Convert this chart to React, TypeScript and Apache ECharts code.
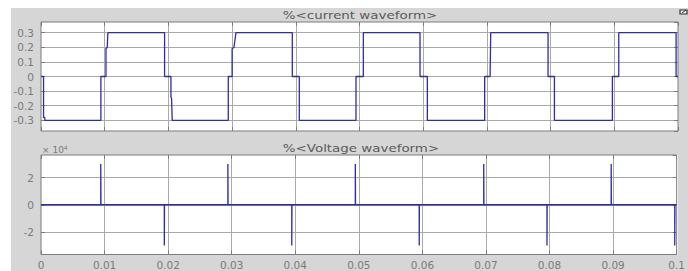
import React, { useEffect, useRef } from "react";
import * as echarts from "echarts";

const currentTitle = "%<current waveform>";
const voltageTitle = "%<Voltage waveform>";

const currentLimit = 0.373;
const voltageLimit = 36600;
const voltageScale = 10000;

const currentT = [
  0, 0.0004, 0.0004, 0.0006, 0.0006,
  0.0094, 0.0094, 0.0102, 0.0102, 0.0104, 0.0105,
  0.0194, 0.0194, 0.0204, 0.0204, 0.0205, 0.0206,
  0.0294, 0.0294, 0.03, 0.03, 0.0303, 0.0306,
  0.03945, 0.03945, 0.04055, 0.04055,
  0.04945, 0.04945, 0.0506, 0.0506,
  0.0595, 0.0595, 0.06065, 0.06065,
  0.06965, 0.06965, 0.0705, 0.0706,
  0.0796, 0.0796, 0.0806, 0.0806,
  0.0897, 0.0897, 0.0907, 0.0907,
  0.0997, 0.0997, 0.1,
];
const currentV = [
  0, 0, -0.28, -0.28, -0.3,
  -0.3, 0, 0, 0.19, 0.2, 0.3,
  0.3, 0, 0, -0.14, -0.15, -0.3,
  -0.3, 0, 0, 0.19, 0.2, 0.3,
  0.3, 0, 0, -0.3,
  -0.3, 0, 0, 0.3,
  0.3, 0, 0, -0.3,
  -0.3, 0, 0, 0.3,
  0.3, 0, 0, -0.3,
  -0.3, 0, 0, 0.3,
  0.3, 0, 0,
];

const voltageT = [
  0,
  0.0094, 0.0094, 0.00943,
  0.0194, 0.0194, 0.01943,
  0.0294, 0.0294, 0.02943,
  0.03945, 0.03945, 0.03948,
  0.04945, 0.04945, 0.04948,
  0.0595, 0.0595, 0.05953,
  0.06965, 0.06965, 0.06968,
  0.0796, 0.0796, 0.07963,
  0.0897, 0.0897, 0.08973,
  0.0997, 0.0997, 0.09973, 0.1,
];
const voltageV = [
  0,
  0, 30000, 0,
  0, -30000, 0,
  0, 30000, 0,
  0, -30000, 0,
  0, 30000, 0,
  0, -30000, 0,
  0, 30000, 0,
  0, -30000, 0,
  0, 30000, 0,
  0, -30000, 0, 0,
];

const LINE = "#2d2da8";
const BOX = "#7c7c7c";
const GRIDC = "#a9a9a9";
const LABEL = "#7a7a7a";
const FONT = "DejaVu Sans";

function fmtNum(v: number) {
  return String(+v.toFixed(3));
}

const grids = [
  { left: 41, top: 22, width: 637, height: 109 },
  { left: 41, top: 155, width: 637, height: 99.5 },
];

export default function App() {
  const ref = useRef<HTMLDivElement>(null);
  useEffect(() => {
    if (!ref.current) return;
    const chart = echarts.init(ref.current, undefined, { renderer: "svg" });
    const mkTick = () => ({ show: true, inside: true, length: 4, lineStyle: { color: BOX, width: 1 } });
    const mkX = (grid: number, pos: "top" | "bottom", labels: boolean, split: boolean) => ({
      type: "value",
      gridIndex: grid,
      position: pos,
      min: 0,
      max: 0.1,
      interval: 0.01,
      axisLine: { show: false, onZero: false },
      axisTick: mkTick(),
      splitLine: { show: split, showMinLine: false, showMaxLine: false, lineStyle: { color: GRIDC, width: 1, type: "solid" } },
      axisLabel: {
        show: labels,
        color: LABEL,
        fontFamily: FONT,
        fontSize: 10.5,
        margin: 5,
        formatter: (v: number) => fmtNum(v),
      },
    });
    const mkY = (
      grid: number,
      pos: "left" | "right",
      lim: number,
      splitNumber: number,
      labels: boolean,
      split: boolean,
      scale: number
    ) => ({
      type: "value",
      gridIndex: grid,
      position: pos,
      min: -lim,
      max: lim,
      splitNumber,
      axisLine: { show: false, onZero: false },
      axisTick: mkTick(),
      splitLine: { show: split, showMinLine: false, showMaxLine: false, lineStyle: { color: GRIDC, width: 1, type: "solid" } },
      axisLabel: {
        show: labels,
        showMinLabel: false,
        showMaxLabel: false,
        color: LABEL,
        fontFamily: FONT,
        fontSize: 10.5,
        margin: 7,
        formatter: (v: number) => fmtNum(v / scale),
      },
    });
    const option: any = {
      animation: false,
      backgroundColor: "transparent",
      grid: grids.map((g) => ({ ...g, show: true, backgroundColor: "transparent", borderColor: BOX, borderWidth: 1 })),
      xAxis: [mkX(0, "bottom", false, true), mkX(0, "top", false, false), mkX(1, "bottom", true, true), mkX(1, "top", false, false)],
      yAxis: [
        mkY(0, "left", currentLimit, 7, true, true, 1),
        mkY(0, "right", currentLimit, 7, false, false, 1),
        mkY(1, "left", voltageLimit, 4, true, true, voltageScale),
        mkY(1, "right", voltageLimit, 4, false, false, voltageScale),
      ],
      series: [
        {
          type: "line",
          xAxisIndex: 0,
          yAxisIndex: 0,
          data: currentT.map((t, i) => [t, currentV[i]]),
          showSymbol: false,
          symbol: "none",
          lineStyle: { color: LINE, width: 1.3 },
          z: 5,
        },
        {
          type: "line",
          xAxisIndex: 2,
          yAxisIndex: 2,
          data: voltageT.map((t, i) => [t, voltageV[i]]),
          showSymbol: false,
          symbol: "none",
          lineStyle: { color: LINE, width: 1.3 },
          z: 5,
        },
      ],
      graphic: [
        {
          type: "text",
          x: 360,
          y: 15,
          scaleX: 1.22,
          style: { text: currentTitle, fill: "#5a5a5a", font: `11px '${FONT}'`, textAlign: "center", textVerticalAlign: "middle" },
        },
        {
          type: "text",
          x: 361,
          y: 148,
          scaleX: 1.22,
          style: { text: voltageTitle, fill: "#5a5a5a", font: `11px '${FONT}'`, textAlign: "center", textVerticalAlign: "middle" },
        },
        {
          type: "text",
          x: 42,
          y: 150,
          style: {
            text: "× 10{sup|4}",
            fill: LABEL,
            font: `9px '${FONT}'`,
            textVerticalAlign: "middle",
            rich: { sup: { fontSize: 6, fill: LABEL, fontFamily: FONT, verticalAlign: "top", padding: [0, 0, 5, 0] } },
          },
        },
        {
          type: "rect",
          shape: { x: 680, y: 10, width: 7, height: 4 },
          style: { fill: "#eeeeee", stroke: "#333333", lineWidth: 1.2 },
        },
        {
          type: "line",
          shape: { x1: 682, y1: 13, x2: 686, y2: 10 },
          style: { stroke: "#333333", lineWidth: 1 },
        },
      ],
    };
    chart.setOption(option);
    return () => chart.dispose();
  }, []);
  return (
    <div style={{ position: "fixed", left: 0, top: 0, width: 688, height: 271, background: "#ffffff", overflow: "hidden" }}>
      <div style={{ position: "absolute", left: 11, top: 8, right: 0, bottom: 0, background: "#d6d6d6" }} />
      {grids.map((g, i) => (
        <div
          key={i}
          style={{ position: "absolute", left: g.left, top: g.top, width: g.width, height: g.height, background: "#ffffff" }}
        />
      ))}
      <div ref={ref} style={{ position: "absolute", left: 0, top: 0, width: 688, height: 271 }} />
    </div>
  );
}
